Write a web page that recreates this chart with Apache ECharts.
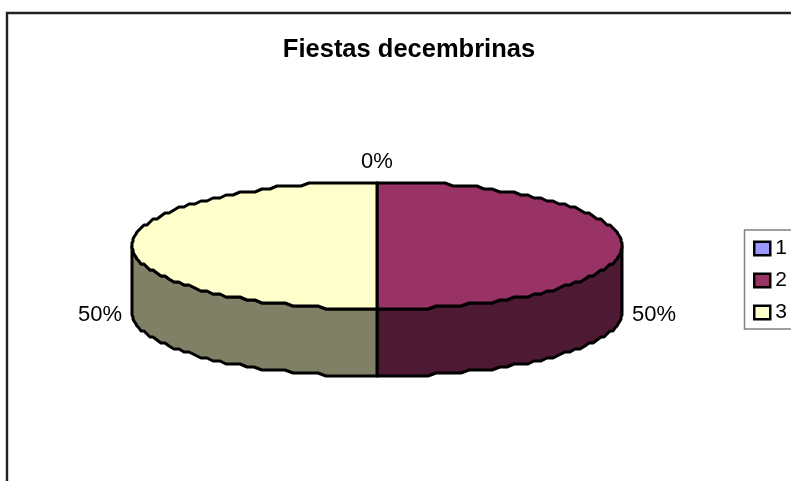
<!DOCTYPE html>
<html><head><meta charset="utf-8">
<style>html,body{margin:0;padding:0;background:#fff}#c{width:791px;height:481px}</style>
<script src="https://cdn.jsdelivr.net/npm/echarts@6/dist/echarts.min.js"></script>
</head><body><div id="c"></div>
<script>
const chartTitle = 'Fiestas decembrinas';
const categories = ['1', '2', '3'];
const values = [0, 50, 50];
const topColors = ['#9999FF', '#993366', '#FFFFCC'];
const sideColors = ['#4D4D80', '#4D1933', '#808066'];

const total = values.reduce((a, b) => a + b, 0);
const CX = 377, CY = 245.5, RX = 245, RY = 63.5, DEPTH = 67;
const FONT = '"Liberation Sans", Arial, sans-serif';
const startFracs = values.map((_, i) => values.slice(0, i).reduce((a, b) => a + b, 0) / total);

function pt(a, dy) {
  const y = CY - RY * Math.cos(a);
  const q = Math.abs(Math.sin(a)) > 0.97 ? 1 : 3;
  return [Math.round(CX + RX * Math.sin(a)), Math.round(y / q) * q + dy];
}
function arc(a0, a1, dy) {
  const pts = [];
  const n = Math.max(1, Math.ceil(Math.abs(a1 - a0) / (Math.PI / 90)));
  for (let k = 0; k <= n; k++) pts.push(pt(a0 + (a1 - a0) * k / n, dy));
  return pts;
}
const lineStyle = { stroke: '#000', lineWidth: 3, lineJoin: 'round' };
function renderSlice(i) {
  return function (params, api) {
    const v = api.value(0);
    const a0 = startFracs[i] * 2 * Math.PI;
    const a1 = a0 + v / total * 2 * Math.PI;
    const children = [];
    const s0 = Math.max(a0, Math.PI / 2), s1 = Math.min(a1, Math.PI * 1.5);
    if (s1 > s0) {
      const top = arc(s0, s1, 0);
      const bot = arc(s1, s0, DEPTH);
      children.push({ type: 'polygon', shape: { points: top.concat(bot) },
        style: Object.assign({ fill: sideColors[i] }, lineStyle) });
    }
    children.push({ type: 'polygon',
      shape: { points: [[CX, Math.round(CY)]].concat(arc(a0, a1, 0)) },
      style: Object.assign({ fill: topColors[i] }, lineStyle) });
    const m = (a0 + a1) / 2, sn = Math.sin(m);
    children.push({ type: 'text', style: {
      text: Math.round(v / total * 100) + '%',
      x: CX + (RX + 32) * sn,
      y: CY - (RY + 20) * Math.cos(m) + (DEPTH + 2) * Math.abs(sn),
      align: 'center', verticalAlign: 'middle',
      font: '22px ' + FONT, fill: '#000' } });
    return { type: 'group', children };
  };
}
const chart = echarts.init(document.getElementById('c'), null, { renderer: 'canvas' });
chart.setOption({
  animation: false,
  backgroundColor: '#fff',
  title: { text: chartTitle, left: 404, top: 32, textAlign: 'center',
    textStyle: { fontFamily: FONT, fontSize: 25.5, fontWeight: 'bold', color: '#000' } },
  legend: {
    orient: 'vertical', left: 744.5, top: 230,
    data: categories, icon: 'rect', itemWidth: 16, itemHeight: 13.5, itemGap: 11,
    padding: [8, 30, 6, 8.5], borderColor: '#808080', borderWidth: 1.5,
    itemStyle: { borderColor: '#000', borderWidth: 2.5 },
    selectedMode: false,
    textStyle: { fontFamily: FONT, fontSize: 21, color: '#000', padding: 0 }
  },
  graphic: [{ type: 'polyline', silent: true, z: -1,
    shape: { points: [[7, 490], [7, 13], [800, 13]] },
    style: { stroke: '#222', lineWidth: 2.4, fill: null } }],
  series: categories.map((name, i) => ({
    type: 'custom', name, coordinateSystem: 'none',
    itemStyle: { color: topColors[i] },
    data: [[values[i]]],
    renderItem: renderSlice(i)
  }))
});
</script></body></html>
